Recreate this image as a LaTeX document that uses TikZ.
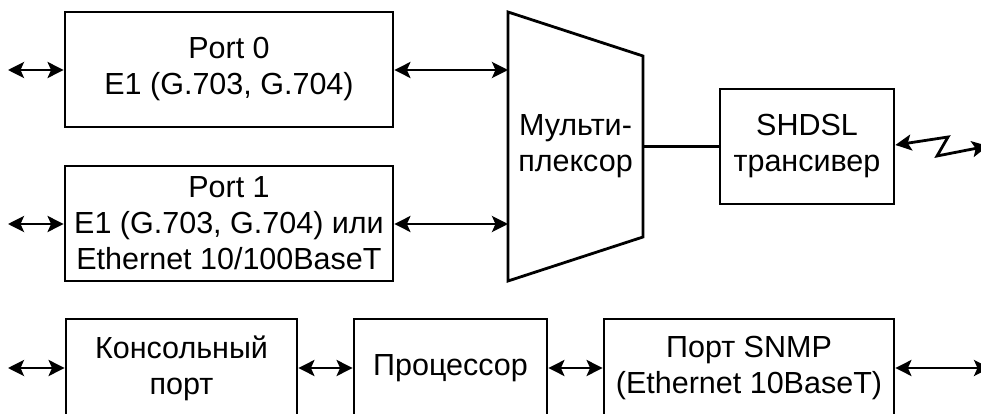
\documentclass[tikz,border=0pt]{standalone}
\usepackage{fontspec}
\setmainfont{Liberation Sans}
\usetikzlibrary{arrows.meta}
\begin{document}
\begin{tikzpicture}[x=1pt,y=-1pt,
  line width=2.8pt,
  blk/.style={draw, line width=2.8pt, align=center, inner sep=0pt,
    font=\fontsize{30.5}{36}\selectfont},
  dtip/.style={{Stealth[length=16pt,width=16pt,inset=3.5pt]}-{Stealth[length=16pt,width=16pt,inset=3.5pt]}},
  lbl/.style={align=center, inner sep=0pt, font=\fontsize{30.5}{36}\selectfont}]
\useasboundingbox (0,0) rectangle (981,414);
\clip (0,0) rectangle (981,414);
% top blocks
\node[blk, minimum width=328pt, minimum height=115pt] (p0) at (229,69.5) {Port 0\\E1 (G.703, G.704)};
\node[blk, minimum width=328pt, minimum height=115pt] (p1) at (229,223.5) {Port 1\\E1 (G.703, G.704) или\\Ethernet 10/100BaseT};
% multiplexer
\coordinate (mtl) at (508,12);
\coordinate (mbl) at (508,281);
\coordinate (mtr) at (643,56);
\coordinate (mbr) at (643,237);
\draw[line join=miter] (mtl) -- (mtr) -- (mbr) -- (mbl) -- cycle;
\node[lbl] (mux) at (575.5,146) {Мульти-\\плексор};
\coordinate (min0) at (508,70);
\coordinate (min1) at (508,224);
\coordinate (mout) at (643,146.5);
\node[blk, minimum width=174pt, minimum height=115pt] (sh) at (807,146.5) {SHDSL\\трансивер};
% top connectors
\coordinate (l0) at (8,70);
\coordinate (l1) at (8,224);
\draw[dtip] (l0) -- (p0.west |- l0);
\draw[dtip] (l1) -- (p1.west |- l1);
\draw[dtip] (p0.east |- min0) -- (min0);
\draw[dtip] (p1.east |- min1) -- (min1);
\draw (mout) -- (sh.west |- mout);
\coordinate (z1) at (948,137);
\coordinate (z2) at (937,156);
\coordinate (z3) at (988,146);
\draw[dtip, line join=miter] (sh.east |- 0,145) -- (z1) -- (z2) -- (z3);
% bottom blocks
\node[blk, minimum width=231pt, minimum height=98pt] (con) at (181.5,368) {Консольный\\порт};
\node[blk, minimum width=193pt, minimum height=98pt] (cpu) at (450.5,368) {Процессор};
\node[blk, minimum width=290pt, minimum height=98pt] (snmp) at (749,368) {Порт SNMP\\(Ethernet 10BaseT)};
\coordinate (lb) at (8,368);
\coordinate (rb) at (990,368);
\draw[dtip] (lb) -- (con.west);
\draw[dtip] (con.east) -- (cpu.west);
\draw[dtip] (cpu.east) -- (snmp.west);
\draw[dtip] (snmp.east) -- (rb);
\end{tikzpicture}
\end{document}
